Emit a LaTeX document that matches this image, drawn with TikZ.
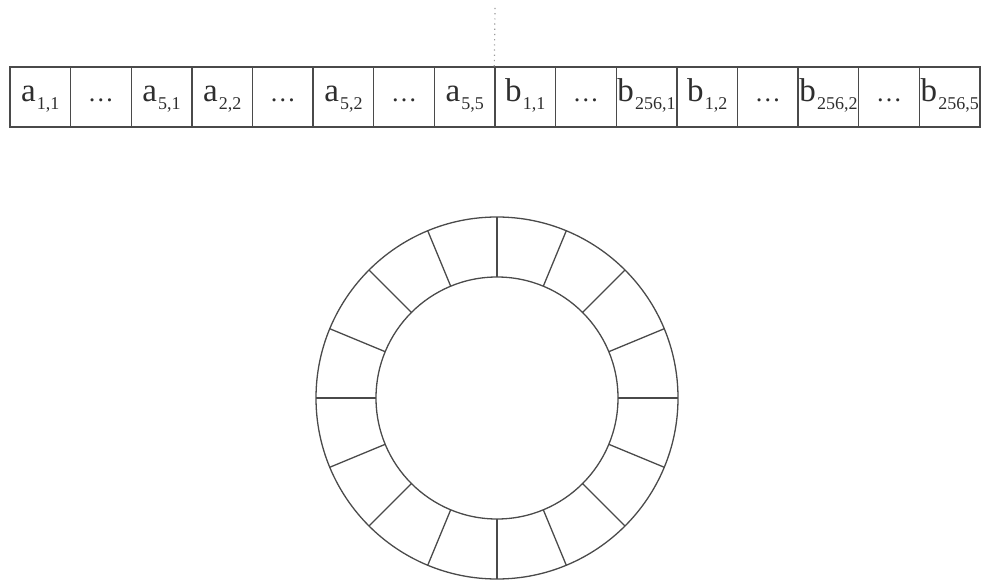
\documentclass[tikz,border=0pt]{standalone}
\usepackage{fontspec}
\setmainfont{Liberation Serif}
\usepackage{tikz}
\usetikzlibrary{positioning,calc}
\definecolor{linegray}{HTML}{4A4A4A}
\definecolor{dotgray}{HTML}{9A9A9A}
\definecolor{textgray}{HTML}{2E2E2E}
\newcommand{\cellsub}[2]{{\fontsize{16.5}{16.5}\selectfont #1}\kern0.6pt\raisebox{-4pt}{\fontsize{9}{9}\selectfont #2}}
\newcommand{\celldots}{{\fontsize{13}{13}\selectfont …}}
\tikzset{
  cellbox/.style={draw=linegray, line width=0.7pt, minimum width=30.3125pt,
    minimum height=30pt, inner sep=0pt, text height=9.5pt, text depth=5pt,
    text=textgray},
  ringline/.style={draw=linegray, line width=0.65pt}
}

\begin{document}
\begin{tikzpicture}[x=0.5pt, y=-0.5pt]
        \useasboundingbox (0,0) rectangle (984,582);
        % memory row
        \foreach \lab [count=\i] in {\cellsub{a}{1,1}, \celldots, \cellsub{a}{5,1},
            \cellsub{a}{2,2}, \celldots, \cellsub{a}{5,2}, \celldots, \cellsub{a}{5,5},
            \cellsub{b}{1,1}, \celldots, \cellsub{b}{256,1}, \cellsub{b}{1,2},
            \celldots, \cellsub{b}{256,2}, \celldots, \cellsub{b}{256,5}}
          \node[cellbox] (c\i) at ({10+60.625*(\i-0.5)},97) {\lab};
        \coordinate (split) at (495,7);
        \draw[dotgray, dotted, line width=0.6pt] (c9.north west) -- (split);
        % ring buffer
        \coordinate (ring) at (497,398);
        \draw[ringline] (ring) circle[radius=181];
        \draw[ringline] (ring) circle[radius=121];
        \foreach \a in {0,22.5,...,337.5}
          \draw[ringline] ($(ring)+(\a:121)$) -- ($(ring)+(\a:181)$);
      \end{tikzpicture}
\end{document}
